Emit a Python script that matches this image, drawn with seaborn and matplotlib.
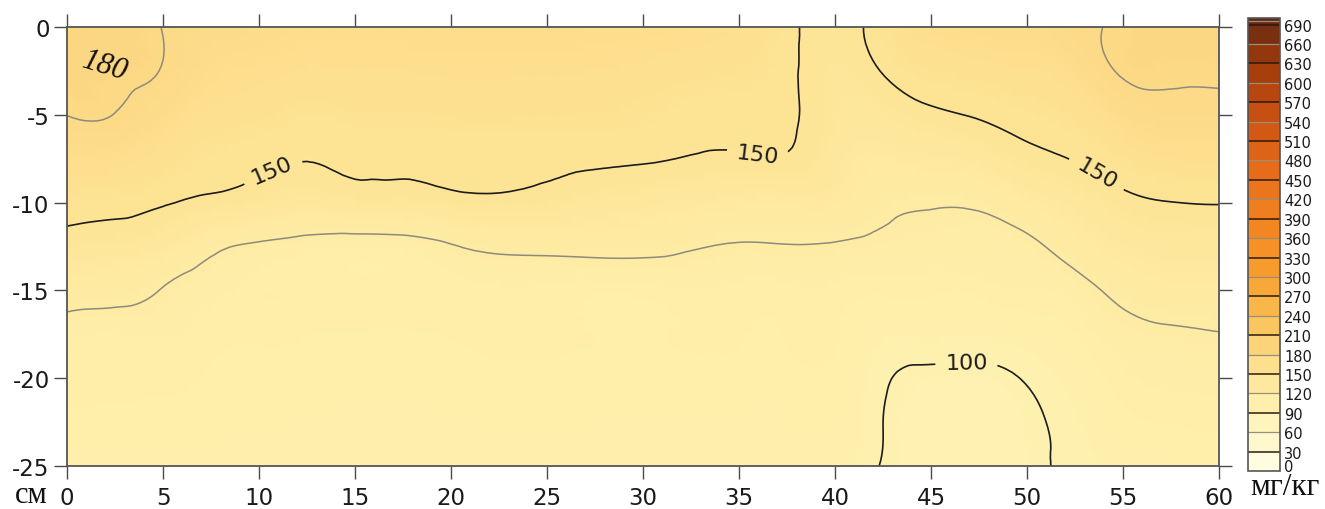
import numpy as np
import matplotlib
matplotlib.use("Agg")
import matplotlib.pyplot as plt
import matplotlib.tri as mtri
from matplotlib.colors import LinearSegmentedColormap, Normalize
from matplotlib.cm import ScalarMappable
import seaborn as sns

# ---- data (mg/kg) ----
x_cm = [0, 2.5, 5, 7.5, 10, 12.5, 15, 17.5, 20, 25, 30, 35, 37.5, 39.7,
        42, 44.5, 47, 49.5, 52, 54.5, 57, 60]
depth_cm = [0, -2.5, -5, -7.5, -10, -12.5, -15, -17.5, -20, -22.5, -25]

v_x00_0 = [188, 184, 180.2, 168.4, 156.3, 142.8, 127, 114, 111, 108.5, 106]
v_x02_5 = [186, 183.5, 179.7, 166.7, 154.4, 140.4, 125, 112, 110, 108, 106]
v_x05_0 = [179.6, 179.2, 169.8, 160.5, 151.1, 135.7, 119.3, 113, 110, 108, 106]
v_x07_5 = [175, 168.5, 162, 155.5, 147, 124, 113, 110.5, 109, 107.5, 106]
v_x10_0 = [172, 165.8, 159.5, 152.5, 143, 117.5, 112, 110, 108.5, 107, 105.5]
v_x12_5 = [170, 163.2, 156, 150.3, 139, 114.5, 111, 109.5, 108, 106.5, 105]
v_x15_0 = [170, 164, 158, 151.8, 142, 113, 110.5, 109, 107.5, 106, 105]
v_x17_5 = [170, 164, 158, 151.8, 142, 113.8, 110.5, 109, 107.5, 106, 105]
v_x20_0 = [170, 164.6, 159.2, 153, 145, 118.8, 111, 109.5, 108, 106.5, 105]
v_x25_0 = [170, 164.4, 158.9, 152.5, 144.5, 124, 111, 110, 108.5, 107, 105.5]
v_x30_0 = [168, 162.2, 156.5, 151.2, 138, 123.9, 110.5, 109, 108, 106.5, 105]
v_x35_0 = [163, 158.2, 153.4, 148.5, 132.6, 118.9, 111, 109.5, 108, 106.5, 105]
v_x37_5 = [153.5, 152.5, 152, 149, 132, 119.5, 111, 109.5, 108, 106.5, 105]
v_x39_7 = [145, 144.5, 143.5, 140, 133, 119, 111.5, 110, 108.5, 107, 105.5]
v_x42_0 = [153, 148.4, 140.6, 132.8, 125, 117.2, 110, 105, 102.5, 101.5, 100.8]
v_x44_5 = [168, 157.5, 146.7, 134.8, 121.5, 115.8, 110.2, 104.7, 98.5, 97, 96.5]
v_x47_0 = [170, 160.2, 150.4, 136.9, 121.6, 115.6, 109.7, 104, 98.1, 97, 96]
v_x49_5 = [172, 163.1, 154.3, 144.5, 128.9, 115.5, 111.8, 105.8, 99.8, 98, 97]
v_x52_0 = [175, 166.6, 158.1, 149.7, 137.2, 124.9, 113.5, 108, 104.5, 102, 101.5]
v_x54_5 = [181, 179.75, 168.1, 156.5, 145.2, 134.3, 122.5, 114.5, 110, 107, 104.5]
v_x57_0 = [185.5, 182.5, 175, 163.2, 149.5, 139, 128.4, 118, 113, 109.5, 106]
v_x60_0 = [186, 182.5, 175.5, 164, 150.5, 140.1, 129.9, 119.5, 114, 110, 107]

columns = [v_x00_0, v_x02_5, v_x05_0, v_x07_5, v_x10_0, v_x12_5, v_x15_0,
           v_x17_5, v_x20_0, v_x25_0, v_x30_0, v_x35_0, v_x37_5, v_x39_7,
           v_x42_0, v_x44_5, v_x47_0, v_x49_5, v_x52_0, v_x54_5, v_x57_0,
           v_x60_0]

x_ticks = [0, 5, 10, 15, 20, 25, 30, 35, 40, 45, 50, 55, 60]
y_ticks = [0, -5, -10, -15, -20, -25]
cbar_levels = list(range(0, 691, 30))
black_levels = [100, 150]
grey_levels = [120, 180]
label_pos = [(10.7, -8.2), (36.1, -6.6), (53.5, -8.6), (46.9, -19.6)]

# ---- style ----
sns.set_theme(style="ticks")
plt.rcParams['font.family'] = ['DejaVu Sans']

cmap_anchors = [
    (0, "#FFFDE8"), (30, "#FFFAD6"), (60, "#FFF6C4"), (90, "#FEF2B4"),
    (120, "#FEECA4"), (150, "#FDE496"), (180, "#FCD986"), (210, "#FACD6C"),
    (240, "#FABF55"), (270, "#F9AF42"), (300, "#F8A030"), (360, "#F48C24"),
    (420, "#EE7A1E"), (480, "#E46818"), (540, "#CC5512"), (600, "#B0420C"),
    (660, "#8A340C"), (700, "#5E2A16"),
]
vmax = 700.0
cmap = LinearSegmentedColormap.from_list(
    "soil", [(v / vmax, c) for v, c in cmap_anchors])
norm = Normalize(vmin=0, vmax=vmax)

# ---- field ----
X, Y = np.meshgrid(np.array(x_cm, float), np.array(depth_cm, float))
Z = np.array(columns, float).T  # rows = depth, cols = x
ny, nx = Z.shape
tris = []
for j in range(ny - 1):
    for i in range(nx - 1):
        a = j * nx + i
        b = a + 1
        c = a + nx
        d = c + 1
        tris.append([a, b, d])
        tris.append([a, d, c])
tri = mtri.Triangulation(X.ravel(), Y.ravel(), np.array(tris))
refiner = mtri.UniformTriRefiner(tri)
tri_r, z_r = refiner.refine_field(Z.ravel(), subdiv=3)

fig = plt.figure(figsize=(13.25, 5.10), dpi=100)
ax = fig.add_axes([0.0506, 0.0843, 0.8694, 0.8608])

ax.tripcolor(tri_r, z_r, cmap=cmap, norm=norm, shading='gouraud',
             rasterized=True)
ax.tricontour(tri_r, z_r, levels=grey_levels, colors='#8e8a7c',
              linewidths=1.1)
cs = ax.tricontour(tri_r, z_r, levels=black_levels, colors='#1c1c1c',
                   linewidths=1.2)
ax.clabel(cs, manual=label_pos, fmt='%d', fontsize=16,
          inline=True, inline_spacing=10, colors='#1c1c1c')

ax.text(1.95, -2.2, "180", family="Liberation Serif", style="italic",
        fontsize=22, rotation=-17, ha='center', va='center', color='#111')

ax.set_xlim(0, 60)
ax.set_ylim(-25, 0)
ax.set_xticks(x_ticks)
ax.set_yticks(y_ticks)
ax.set_xticklabels([str(t) for t in x_ticks])
ax.set_yticklabels([str(t) for t in y_ticks])
ax.tick_params(which='both', direction='out', length=9.5, width=1.0,
               color='#4a4a4a', top=True, right=True, labeltop=False,
               labelright=False, labelsize=16.5, labelcolor='#1a1a1a')
ax.tick_params(axis='x', pad=5)
ax.tick_params(axis='y', pad=3)
for s in ax.spines.values():
    s.set_color('#555555')
    s.set_linewidth(1.3)
ax.set_xlabel("")
ax.set_ylabel("")

# ---- colour bar ----
cax = fig.add_axes([0.9419, 0.0745, 0.0242, 0.888])
bounds = cbar_levels + [695, 700]
cb = fig.colorbar(ScalarMappable(norm=norm, cmap=cmap), cax=cax,
                  boundaries=bounds, spacing='proportional')
cb.set_ticks(cbar_levels)
cb.set_ticklabels([''] + [str(v) for v in cbar_levels[1:]])
cax.tick_params(length=0, labelsize=10.5, pad=3, labelcolor='#1a1a1a')
# the bottom "0" label sits a little above the bar's lower edge, as in the reference
cax.annotate(str(cbar_levels[0]), xy=(1, cbar_levels[0]),
             xycoords=('axes fraction', 'data'), xytext=(3, 3.5),
             textcoords='offset points', va='center', ha='left',
             fontsize=10.5, color='#1a1a1a', annotation_clip=False)
for lv in bounds[1:-1]:
    dark = (lv % 60 == 30)
    cax.axhline(lv, color='#2a1a10' if dark else '#9a8e78',
                linewidth=1.1 if dark else 0.9)
cb.outline.set_edgecolor('#555555')
cb.outline.set_linewidth(1.2)

fig.text(0.0113, 0.0137, "см", family="Liberation Serif", fontsize=22,
         va='baseline', ha='left', color='#111')
fig.text(0.9434, 0.0300, "мг/кг", family="Liberation Serif", fontsize=22.5,
         va='baseline', ha='left', color='#111')

fig.savefig("out.png", dpi=100)
